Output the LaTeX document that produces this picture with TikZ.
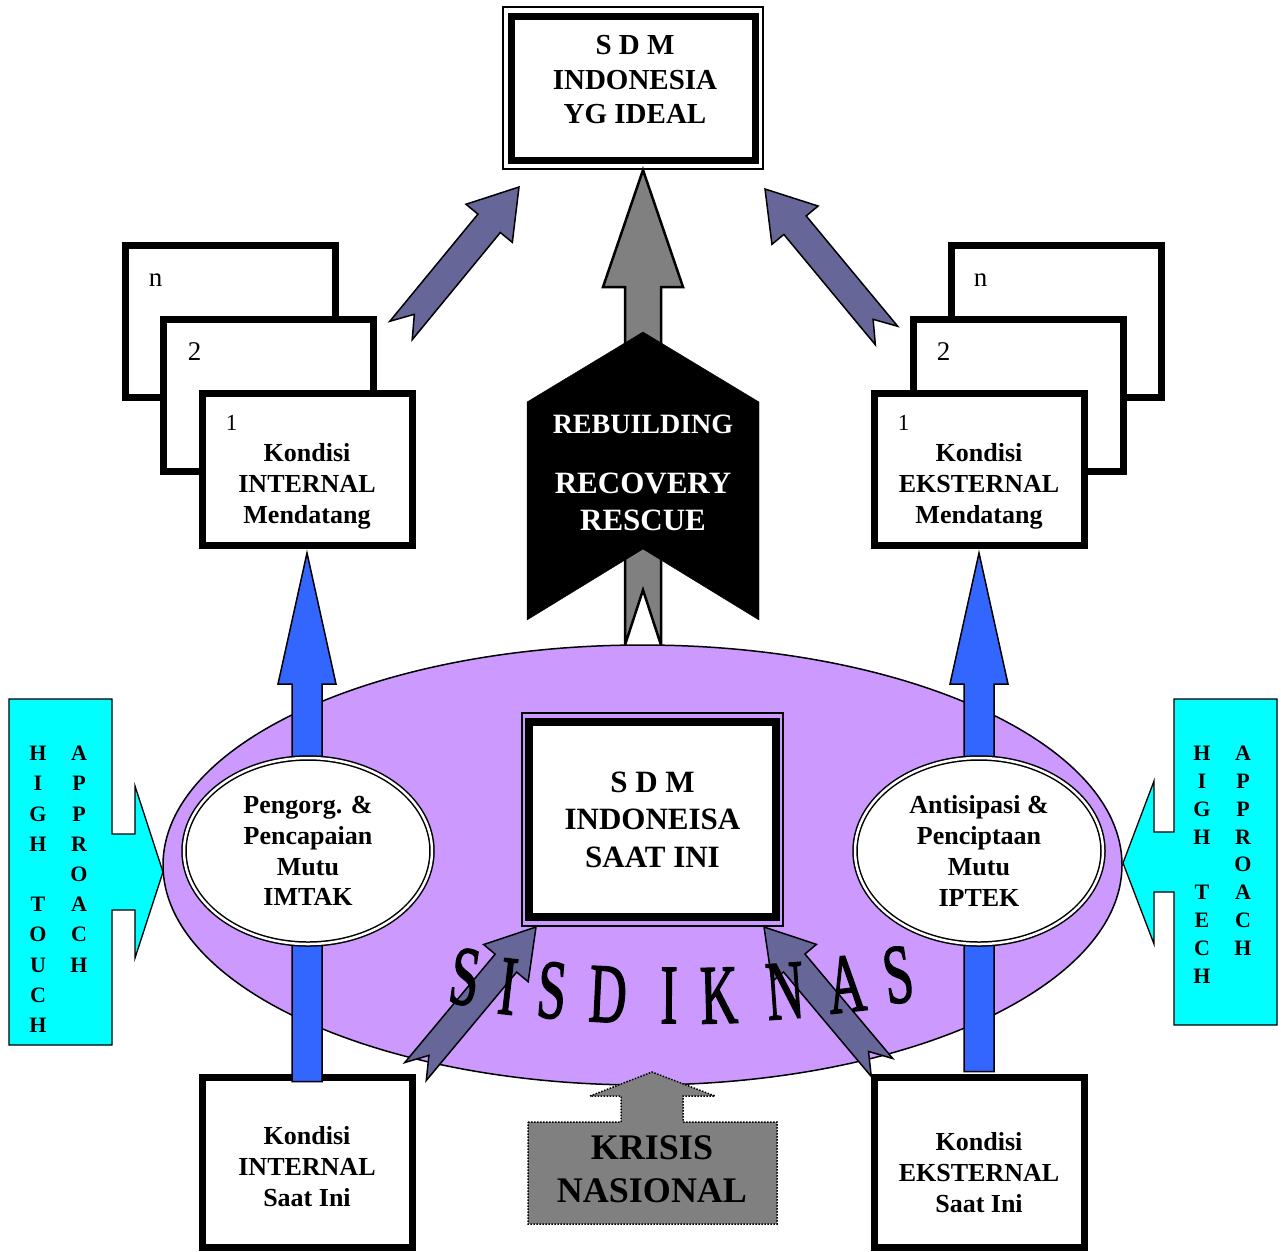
\documentclass[tikz,border=0pt]{standalone}
\usepackage{fontspec}
\setmainfont{Liberation Serif}
\newfontfamily\sisfont[FakeBold=2]{Liberation Serif}
\usetikzlibrary{calc,fit,shapes.geometric}
\definecolor{sislilac}{HTML}{CC99FF}
\definecolor{royal}{HTML}{3366FF}
\definecolor{dusk}{HTML}{666699}
\definecolor{midgray}{HTML}{808080}
\definecolor{aqua}{HTML}{00FFFF}
\newcommand{\fsz}[2]{\fontsize{#1}{#2}\selectfont}
% block arrow: [style]{tail}{tip}{shaft half}{head half}{head length}{notch}
\newcommand{\blockarrow}[7][]{%
  \coordinate (ba-t) at (#2);
  \coordinate (ba-h) at (#3);
  \coordinate (ba-b) at ($(ba-h)!#6!(ba-t)$);
  \draw[#1] ($(ba-t)!#4!90:(ba-h)$) -- ($(ba-b)!#4!90:(ba-h)$) -- ($(ba-b)!#5!90:(ba-h)$) -- (ba-h)
    -- ($(ba-b)!#5!-90:(ba-h)$) -- ($(ba-b)!#4!-90:(ba-h)$) -- ($(ba-t)!#4!-90:(ba-h)$)
    -- ($(ba-t)!#7!(ba-h)$) -- cycle;
}

\begin{document}
\begin{tikzpicture}[x=1pt, y=-1pt,
  stackbox/.style={draw, line width=7pt, fill=white, minimum width=210pt, minimum height=152pt},
  boxtext/.style={font=\bfseries\fsz{26}{31}, align=center},
  digit/.style={font=\fsz{27}{30}, inner sep=0pt},
  ring/.style={ellipse, draw, line width=1.5pt, double=white, double distance=2.5pt, fill=white,
    minimum width=248pt, minimum height=186pt, inner sep=0pt, font=\bfseries\fsz{26}{30.7}, align=center},
  outerframe/.style={draw, line width=1.3pt, inner xsep=4.5pt, inner ysep=5.5pt},
  dusky/.style={fill=dusk, draw=black, line width=1.5pt},
  bluearrow/.style={fill=royal, draw=black, line width=1.5pt},
  callout/.style={fill=aqua, draw=black, line width=1.3pt},
  colletters/.style={font=\bfseries\fsz{22}{30.2}, align=center, anchor=north, inner sep=0pt},
  sisletter/.style={font=\sisfont\fsz{84}{84}, inner sep=0pt},
]
\useasboundingbox (0,0) rectangle (1281,1251);

% Central arrow to the goal
\coordinate (rise-tail) at (643,645);
\coordinate (rise-tip) at (643,170);
\blockarrow[fill=midgray, draw=black, line width=2.5pt]{rise-tail}{rise-tip}{18pt}{40pt}{117pt}{55pt}

% Goal at the top
\node[stackbox, minimum width=244pt, minimum height=144pt] (ideal) at (633,88) {};
\node[outerframe, fit=(ideal)] (idealframe) {};
\node[boxtext, font=\bfseries\fsz{29}{34.5}] (idealtxt) at (635,80) {S D M\\INDONESIA\\YG IDEAL};

% Diagonal arrows to the goal
\coordinate (lift-l) at (401,330.5);
\coordinate (aim-l) at (519,187);
\blockarrow[dusky]{lift-l}{aim-l}{14.5pt}{30pt}{47pt}{21pt}
\coordinate (lift-r) at (886.5,335.5);
\coordinate (aim-r) at (765,189);
\blockarrow[dusky]{lift-r}{aim-r}{14.5pt}{30pt}{47pt}{21pt}

% Left stack -- future internal conditions
\node[stackbox] (int1) at (307,469.5) {};
\node[stackbox] (intn) at ($(int1)+(-77,-148)$) {};
\node[stackbox] (int2) at ($(int1)+(-39,-74)$) {};
\node[stackbox] (int1) at (307,469.5) {};
\node[digit] (intn-no) at ($(intn.north west)+(34,38)$) {n};
\node[digit] (int2-no) at ($(int2.north west)+(35,35.5)$) {2};
\node[digit, font=\fsz{23}{26}] (int1-no) at ($(int1.north west)+(33,33)$) {1};
\node[boxtext] (int1txt) at ($(int1)+(0,17)$) {Kondisi\\INTERNAL\\Mendatang};

% Right stack -- future external conditions
\node[stackbox] (ext1) at (979,469.5) {};
\node[stackbox] (extn) at ($(ext1)+(77,-148)$) {};
\node[stackbox] (ext2) at ($(ext1)+(39,-74)$) {};
\node[stackbox] (ext1) at (979,469.5) {};
\node[digit] (extn-no) at ($(extn.north west)+(33,38)$) {n};
\node[digit] (ext2-no) at ($(ext2.north west)+(34,35.5)$) {2};
\node[digit, font=\fsz{23}{26}] (ext1-no) at ($(ext1.north west)+(33,33)$) {1};
\node[boxtext] (ext1txt) at ($(ext1)+(0,17)$) {Kondisi\\EKSTERNAL\\Mendatang};

% Chevron with the three R's
\draw[fill=black] (643,332) -- (759,402) -- (759,620) -- (643,549) -- (527,620) -- (527,402) -- cycle;
\node[text=white, font=\bfseries\fsz{31}{37}, align=center] (rescue) at (643,472.5)
  {{\fsz{28}{34}REBUILDING}\\[23pt]RECOVERY\\RESCUE};

% SISDIKNAS ellipse
\node[ellipse, draw, line width=1.5pt, fill=sislilac, minimum width=959pt, minimum height=440pt] (sisdiknas) at (642.5,865) {};

% Present conditions at the bottom
\node[stackbox, minimum height=170pt] (lowin) at (307,1162) {};
\node[boxtext] (lowintxt) at ($(lowin)+(0,5)$) {Kondisi\\INTERNAL\\Saat Ini};
\node[stackbox, minimum height=170pt] (lowex) at (979,1162) {};
\node[boxtext] (lowextxt) at ($(lowex)+(0,11)$) {Kondisi\\EKSTERNAL\\Saat Ini};

% Vertical blue arrows
\coordinate (up-l) at ($(lowin.north)+(0,8)$);
\coordinate (top-l) at ($(int1.south)+(0,4)$);
\blockarrow[bluearrow]{up-l}{top-l}{15pt}{29pt}{131pt}{0pt}
\coordinate (up-r) at ($(lowex.north)+(0,-2)$);
\coordinate (top-r) at ($(ext1.south)+(0,4)$);
\blockarrow[bluearrow]{up-r}{top-r}{15pt}{29pt}{131pt}{0pt}

% Quality rings
\node[ring] (imtak) at (308,851) {Pengorg. \&\\Pencapaian\\Mutu\\IMTAK};
\node[ring] (iptek) at (979,851) {Antisipasi \&\\Penciptaan\\Mutu\\IPTEK};

% Present state in the centre
\node[stackbox, line width=8pt, minimum width=247pt, minimum height=195pt,
  font=\bfseries\fsz{31}{37.5}, align=center] (now) at (652.5,819.5) {S D M\\INDONEISA\\SAAT INI};
\node[outerframe, inner xsep=3pt, inner ysep=5pt, fit=(now)] (nowframe) {};

% Diagonal arrows into the centre
\coordinate (feed-l) at (415.5,1071.5);
\coordinate (hit-l) at (536,927);
\blockarrow[dusky]{feed-l}{hit-l}{14pt}{29pt}{47pt}{21pt}
\coordinate (feed-r) at (882,1067.5);
\coordinate (hit-r) at (764,927);
\blockarrow[dusky]{feed-r}{hit-r}{14pt}{29pt}{47pt}{21pt}

% Arched title
\foreach \ch/\cx/\cy/\ang [count=\i] in {S/465/977/-8.4, I/508/986.5/-6.7, S/552/990.5/-5,
    D/608/994.5/-2.8, I/669/995.5/-0.4, K/719/995.5/1.5, N/785/991/4.1, A/846/984/6.5, S/898/975/8.5}
  \node[sisletter, rotate=\ang] (sis\i) at (\cx,\cy) {\scalebox{0.62}[1]{\ch}};

% National crisis pushing up
\draw[fill=midgray, dash pattern=on 1.5pt off 1.5pt, line width=1.5pt] (528,1122) -- (621,1122) -- (621,1096) -- (590,1096)
  -- (652,1072) -- (715,1096) -- (683,1096) -- (683,1122) -- (777,1122) -- (777,1224) -- (528,1224) -- cycle;
\node[font=\bfseries\fsz{36}{43}, align=center] (krisis) at (652,1169) {KRISIS\\NASIONAL};

% Approach callouts
\draw[callout] (9,699) -- (112,699) -- (112,834) -- (135,834) -- (135,786) -- (163,872)
  -- (135,958) -- (135,910) -- (112,910) -- (112,1045) -- (9,1045) -- cycle;
\node[colletters] (touch) at (38,746) {H\\I\\G\\H\\~\\T\\O\\U\\C\\H};
\node[colletters] (appr-l) at (79,746) {A\\P\\P\\R\\O\\A\\C\\H};

\draw[callout] (1277,699) -- (1174,699) -- (1174,832) -- (1154,832) -- (1154,781) -- (1123,863)
  -- (1154,944) -- (1154,892) -- (1174,892) -- (1174,1025) -- (1277,1025) -- cycle;
\node[colletters, font=\bfseries\fsz{22}{27.8}] (tech) at (1202,746) {H\\I\\G\\H\\~\\T\\E\\C\\H};
\node[colletters, font=\bfseries\fsz{22}{27.8}] (appr-r) at (1243,746) {A\\P\\P\\R\\O\\A\\C\\H};

\end{tikzpicture}
\end{document}
